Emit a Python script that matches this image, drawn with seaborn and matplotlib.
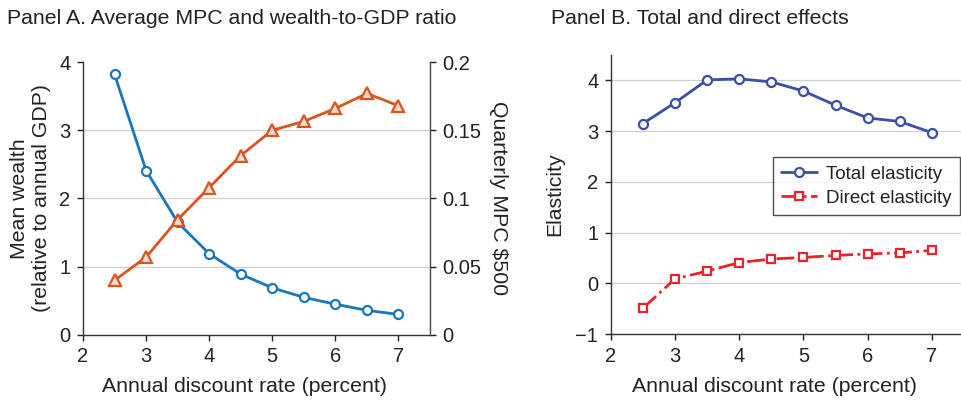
import numpy as np
import pandas as pd
import matplotlib
matplotlib.use("Agg")
import matplotlib.pyplot as plt
import seaborn as sns

# discount rates (percent)
rates = [2.5, 3.0, 3.5, 4.0, 4.5, 5.0, 5.5, 6.0, 6.5, 7.0]

# Panel A series
mean_wealth = [3.82, 2.41, 1.65, 1.19, 0.89, 0.69, 0.55, 0.45, 0.36, 0.30]
quarterly_mpc = [0.040, 0.057, 0.0845, 0.108, 0.1315, 0.150, 0.1565, 0.166, 0.177, 0.168]

# Panel B series
total_elast = [3.15, 3.56, 4.01, 4.03, 3.97, 3.79, 3.51, 3.26, 3.19, 2.97]
direct_elast = [-0.49, 0.09, 0.24, 0.41, 0.48, 0.51, 0.55, 0.58, 0.60, 0.65]

sns.set_style("white")
plt.rcParams['font.family'] = ['Liberation Sans', 'DejaVu Sans']
plt.rcParams['axes.linewidth'] = 1.0

blue_a = "#1a75bf"
orange_a = "#d9541e"
blue_b = "#3a4fa5"
red_b = "#e8232b"
grid_c = "#cfcfcf"
txt_c = "#222222"

tick_fs = 14.5
lab_fs = 15.3
title_fs = 15.3

fig = plt.figure(figsize=(9.62, 4.03), dpi=100)
ax1 = fig.add_axes([0.0863, 0.169, 0.3607, 0.677])
ax2 = ax1.twinx()
axb = fig.add_axes([0.635, 0.171, 0.365, 0.6925])

# ---- Panel A
for y in [1, 2, 3]:
    ax1.axhline(y, color=grid_c, lw=0.9, zorder=0)

sns.lineplot(x=rates, y=mean_wealth, ax=ax1, color=blue_a, lw=2.0,
             marker='o', markersize=6.5, markerfacecolor='white',
             markeredgecolor=blue_a, markeredgewidth=1.6, zorder=3)
sns.lineplot(x=rates, y=quarterly_mpc, ax=ax2, color=orange_a, lw=2.0,
             marker='^', markersize=8, markerfacecolor='#f6d9cc',
             markeredgecolor=orange_a, markeredgewidth=1.6, zorder=3)

ax1.set_xlim(2, 7.5)
ax1.set_ylim(0, 4)
ax2.set_ylim(0, 0.2)
ax1.set_xticks([2, 3, 4, 5, 6, 7])
ax1.set_yticks([0, 1, 2, 3, 4])
ax2.set_yticks([0, 0.05, 0.1, 0.15, 0.2])
ax2.set_yticklabels(["0", "0.05", "0.1", "0.15", "0.2"])

for a in (ax1, ax2):
    a.spines['top'].set_visible(False)
ax2.spines['left'].set_visible(False)
ax2.spines['bottom'].set_visible(False)
ax1.spines['right'].set_visible(False)
ax2.spines['right'].set_color("#3d4a57")
ax1.spines['left'].set_color("#333333")
ax1.spines['bottom'].set_color("#333333")

ax1.tick_params(axis='both', direction='out', length=4, width=1, labelsize=tick_fs,
                colors=txt_c, left=True, bottom=True, pad=5)
ax2.tick_params(axis='y', direction='out', length=4, width=1, labelsize=tick_fs,
                colors=txt_c, right=True, pad=5)

ax1.set_xlabel("Annual discount rate (percent)", fontsize=lab_fs, color=txt_c)
ax1.xaxis.set_label_coords(0.465, -0.155, transform=ax1.transAxes)
ax1.xaxis.label.set_va('top')
ax1.set_ylabel("Mean wealth\n(relative to annual GDP)", fontsize=lab_fs, color=txt_c,
               linespacing=1.2, labelpad=6)
ax2.set_ylabel("Quarterly MPC $500", fontsize=lab_fs, color=txt_c, rotation=270,
               labelpad=19)
fig.text(0.007, 0.955, "Panel A. Average MPC and wealth-to-GDP ratio",
         fontsize=title_fs, color=txt_c, va='center', ha='left')

# ---- Panel B
for y in [0, 1, 2, 3, 4]:
    axb.axhline(y, color=grid_c, lw=0.9, zorder=0)

sns.lineplot(x=rates, y=total_elast, ax=axb, color=blue_b, lw=2.0,
             marker='o', markersize=6.5, markerfacecolor='white',
             markeredgecolor=blue_b, markeredgewidth=1.6, zorder=3,
             label="Total elasticity")
sns.lineplot(x=rates, y=direct_elast, ax=axb, color=red_b, lw=2.0,
             linestyle='-.', marker='s', markersize=6, markerfacecolor='white',
             markeredgecolor=red_b, markeredgewidth=1.6, zorder=3,
             label="Direct elasticity")

axb.set_xlim(2, 7.47)
axb.set_ylim(-1, 4.5)
axb.set_xticks([2, 3, 4, 5, 6, 7])
axb.set_yticks([-1, 0, 1, 2, 3, 4])
axb.set_yticklabels(["\u22121", "0", "1", "2", "3", "4"])
axb.spines['top'].set_visible(False)
axb.spines['right'].set_visible(False)
axb.spines['left'].set_color("#333333")
axb.spines['bottom'].set_color("#333333")
axb.tick_params(axis='both', direction='out', length=4, width=1, labelsize=tick_fs,
                colors=txt_c, left=True, bottom=True, pad=5)
axb.set_xlabel("Annual discount rate (percent)", fontsize=lab_fs, color=txt_c)
axb.xaxis.set_label_coords(0.467, -0.155, transform=axb.transAxes)
axb.xaxis.label.set_va('top')
axb.set_ylabel("Elasticity", fontsize=lab_fs, color=txt_c, labelpad=8)

leg = axb.legend(loc='upper right', bbox_to_anchor=(0.995, 0.633), fontsize=13.5,
                 frameon=True, fancybox=False, edgecolor='#222222',
                 handlelength=1.9, borderpad=0.45, labelspacing=0.35,
                 handletextpad=0.5, borderaxespad=0)
leg.get_frame().set_linewidth(1.0)
for t in leg.get_texts():
    t.set_color(txt_c)

fig.text(0.573, 0.955, "Panel B. Total and direct effects",
         fontsize=title_fs, color=txt_c, va='center', ha='left')

fig.savefig("out.png", dpi=100)
